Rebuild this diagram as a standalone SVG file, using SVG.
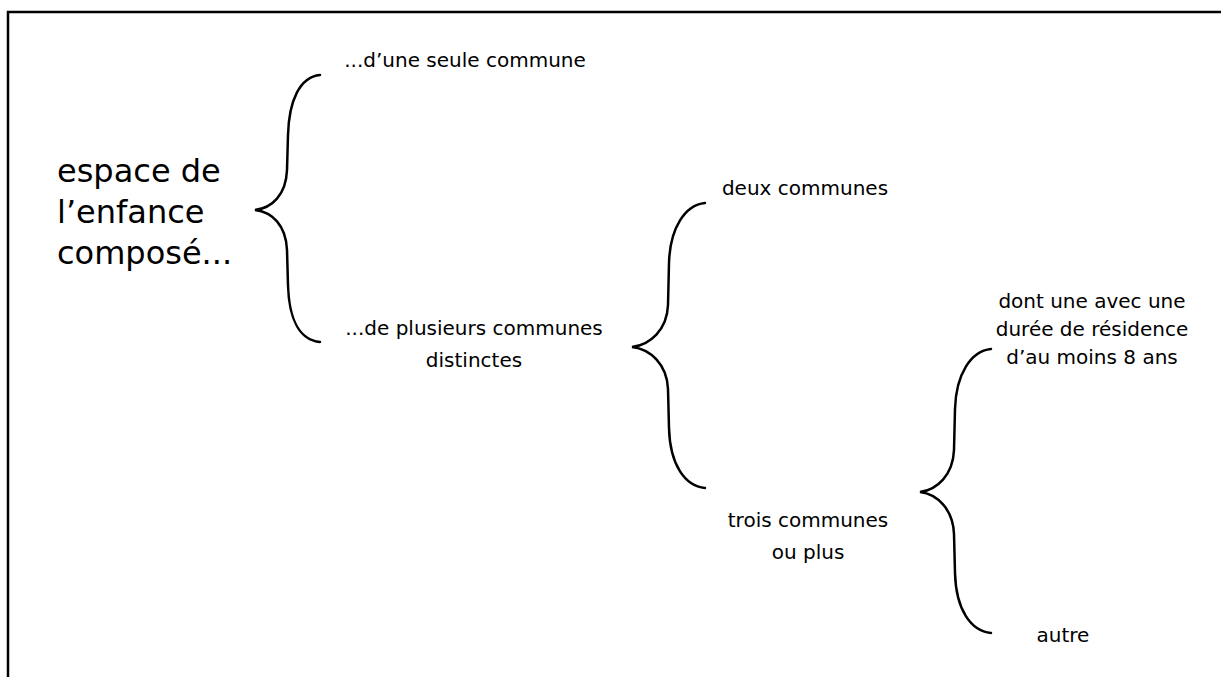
<svg xmlns="http://www.w3.org/2000/svg" width="1221" height="677" viewBox="0 0 1221 677">
<style>
.t{font-family:"DejaVu Sans","Liberation Sans",sans-serif;font-size:20px;fill:#000;text-anchor:middle}
.big{font-family:"DejaVu Sans","Liberation Sans",sans-serif;font-size:32px;fill:#000}
.br{fill:none;stroke:#000;stroke-width:2.5;stroke-linecap:round}
.frame{fill:none;stroke:#000;stroke-width:2.5}
</style>
<rect width="1221" height="677" fill="#fff"/>
<path class="frame" d="M8,690 L8,12 L1230,12"/>
<g id="root">
<text class="big" x="57" y="182">espace de</text>
<text class="big" x="57" y="223">l’enfance</text>
<text class="big" x="57" y="264">composé...</text>
</g>
<g id="seule"><text class="t" x="465" y="67">...d’une seule commune</text></g>
<g id="plusieurs"><text class="t" x="474" y="335">...de plusieurs communes</text><text class="t" x="474" y="367">distinctes</text></g>
<g id="deux"><text class="t" x="805" y="195">deux communes</text></g>
<g id="trois"><text class="t" x="808" y="527">trois communes</text><text class="t" x="808" y="559">ou plus</text></g>
<g id="dont"><text class="t" x="1092" y="308">dont une avec une</text><text class="t" x="1092" y="336">durée de résidence</text><text class="t" x="1092" y="364">d’au moins 8 ans</text></g>
<g id="autre"><text class="t" x="1063" y="642">autre</text></g>
<g id="connectors">
<path class="br" d="M320,75 C300,77 289,100 288,135 L287,170 C286,195 272,208 255,210 C272,212 286,225 287,250 L288,285 C289,320 300,340 320,342"/>
<path class="br" d="M705,203 C685,205 670,228 669,263 L668,305 C667,330 650,345 632,347 C650,349 667,364 668,389 L669,428 C670,465 685,486 705,488"/>
<path class="br" d="M991,349 C971,351 956,374 955,409 L954,450 C953,475 937,490 920,492 C937,494 953,509 954,534 L955,573 C956,610 971,631 991,633"/>
</g>
</svg>
